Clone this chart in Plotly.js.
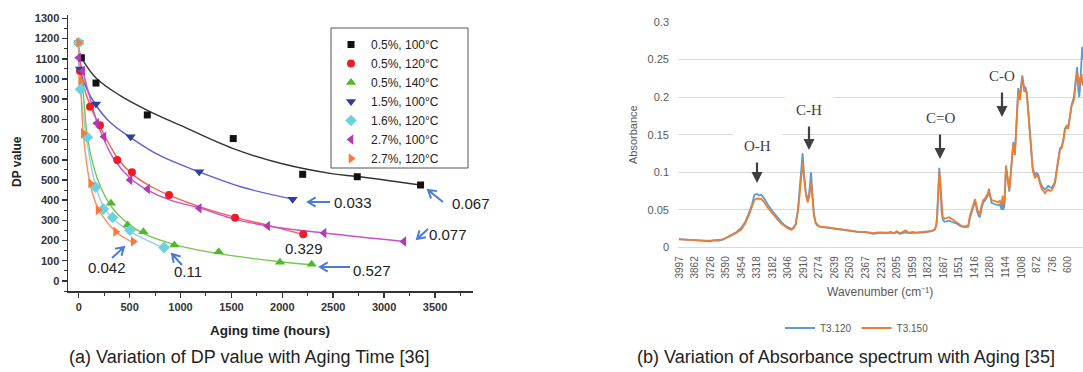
<!DOCTYPE html>
<html><head><meta charset="utf-8">
<script src="https://cdn.plot.ly/plotly-3.0.1.min.js"></script>
<style>html,body{margin:0;padding:0;background:#fff;overflow:hidden}#chart{width:1083px;height:372px}</style>
</head><body><div id="chart"></div>
<script>
// ---------- (a) DP value vs aging time ----------
const seriesNames = ['0.5%, 100°C','0.5%, 120°C','0.5%, 140°C','1.5%, 100°C','1.6%, 120°C','2.7%, 100°C','2.7%, 120°C'];
const dpX = [
  [26, 170, 674, 1518, 2200, 2736, 3358],
  [0, 13, 111, 209, 379, 523, 887, 1536, 2206],
  [0, 85, 317, 481, 635, 939, 1375, 1977, 2288],
  [0, 13, 170, 510, 1184, 2101],
  [0, 19, 85, 166, 242, 333, 504, 838],
  [0, 39, 177, 248, 504, 677, 1184, 1856, 2410, 3194],
  [0, 19, 45, 117, 190, 363, 536]
];
const dpY = [
  [1105, 980, 822, 705, 528, 516, 475],
  [1180, 1040, 863, 771, 599, 538, 426, 313, 231],
  [1180, 714, 385, 277, 243, 178, 145, 93, 83],
  [1180, 1050, 876, 714, 541, 404],
  [1180, 949, 711, 464, 356, 314, 251, 165],
  [1105, 1040, 781, 714, 500, 455, 360, 272, 237, 195],
  [1180, 992, 731, 483, 351, 244, 195]
];
// fitted curves
const fitX = [
  [26, 170, 400, 674, 1000, 1518, 2000, 2500, 2736, 3358],
  [0, 13, 111, 209, 379, 523, 700, 887, 1200, 1536, 1900, 2206],
  [0, 50, 85, 150, 220, 317, 481, 635, 939, 1375, 1977, 2288],
  [0, 13, 80, 170, 300, 510, 800, 1184, 1600, 2101],
  [0, 19, 85, 166, 242, 333, 504, 838],
  [0, 39, 177, 248, 350, 504, 677, 900, 1184, 1500, 1856, 2410, 3194],
  [0, 19, 45, 117, 190, 363, 536]
];
const fitY = [
  [1105, 1005, 920, 845, 770, 655, 580, 530, 517, 475],
  [1180, 1040, 870, 765, 610, 530, 470, 425, 365, 315, 270, 230],
  [1180, 900, 714, 560, 460, 370, 285, 235, 180, 135, 95, 80],
  [1180, 1050, 950, 870, 790, 710, 620, 540, 465, 405],
  [1180, 950, 680, 470, 370, 310, 245, 162],
  [1105, 1040, 790, 700, 600, 510, 450, 400, 362, 310, 272, 237, 195],
  [1180, 990, 730, 470, 360, 245, 190]
];
const dpTicksX = [0, 500, 1000, 1500, 2000, 2500, 3000, 3500];
const rateLabels = ['0.067', '0.033', '0.077', '0.527', '0.11', '0.042', '0.329'];

// ---------- (b) FTIR spectrum ----------
const wn = [4000,3950,3900,3862,3800,3760,3726,3700,3650,3620,
 3590,3550,3500,3454,3420,3390,3360,3340,3318,3300,
 3280,3250,3220,3182,3140,3100,3070,3046,3020,3000,
 2980,2960,2945,2930,2919,2905,2890,2875,2860,2846,
 2835,2820,2805,2790,2774,2700,2639,2570,2503,2440,
 2367,2330,2300,2260,2231,2180,2150,2120,2095,2070,
 2050,2020,1990,1959,1930,1900,1860,1823,1790,1763,
 1750,1743,1735,1725,1718,1713,1705,1695,1680,1661,
 1640,1617,1595,1573,1550,1530,1500,1472,1457,1440,
 1428,1413,1400,1393,1380,1370,1355,1341,1325,1312,
 1300,1291,1280,1267,1250,1230,1210,1195,1180,1171,
 1166,1155,1142,1130,1113,1100,1090,1078,1064,1050,
 1035,1020,1010,1000,990,983,972,961,950,933,
 920,909,889,875,860,845,830,815,801,787,
 773,758,743,728,714,700,685,670,656,640,
 627,612,598,583,568,558,548,535,520,510,
 502,496,490,481,476,470];
const t3_120 = [0.0110,0.0105,0.0100,0.0095,0.0090,0.0092,0.0080,0.0092,0.0090,0.0100,
 0.0125,0.0160,0.0200,0.0260,0.0340,0.0450,0.0580,0.0700,0.0710,0.0690,
 0.0700,0.0640,0.0560,0.0480,0.0400,0.0330,0.0285,0.0265,0.0245,0.0260,
 0.0310,0.0500,0.0750,0.1050,0.1250,0.0950,0.0720,0.0610,0.0750,0.1000,
 0.0720,0.0440,0.0320,0.0290,0.0275,0.0260,0.0245,0.0230,0.0215,0.0205,
 0.0200,0.0185,0.0180,0.0190,0.0195,0.0190,0.0195,0.0185,0.0200,0.0180,
 0.0190,0.0200,0.0190,0.0195,0.0190,0.0195,0.0195,0.0205,0.0215,0.0235,
 0.0300,0.0440,0.0760,0.1060,0.0900,0.0740,0.0480,0.0370,0.0340,0.0345,
 0.0355,0.0340,0.0330,0.0315,0.0290,0.0275,0.0270,0.0275,0.0390,0.0490,
 0.0540,0.0610,0.0530,0.0470,0.0420,0.0400,0.0520,0.0600,0.0620,0.0660,
 0.0690,0.0750,0.0650,0.0590,0.0580,0.0570,0.0560,0.0570,0.0500,0.0640,
 0.0500,0.0560,0.1070,0.0930,0.0740,0.0990,0.1220,0.1400,0.1250,0.1640,
 0.2120,0.2000,0.2190,0.2290,0.2190,0.2120,0.2130,0.2070,0.1880,0.1600,
 0.1290,0.1060,0.0960,0.0990,0.0970,0.0880,0.0820,0.0790,0.0770,0.0790,
 0.0820,0.0800,0.0790,0.0830,0.0870,0.1020,0.1180,0.1320,0.1340,0.1440,
 0.1580,0.1620,0.1600,0.1770,0.1900,0.1950,0.2000,0.2200,0.2400,0.2100,
 0.2000,0.2100,0.2300,0.2400,0.2670,0.2500];
const t3_150 = [0.0105,0.0100,0.0098,0.0095,0.0093,0.0090,0.0088,0.0092,0.0095,0.0105,
 0.0120,0.0150,0.0190,0.0240,0.0320,0.0420,0.0540,0.0630,0.0650,0.0650,
 0.0645,0.0590,0.0520,0.0450,0.0370,0.0310,0.0270,0.0250,0.0235,0.0250,
 0.0300,0.0480,0.0700,0.0950,0.1130,0.0900,0.0700,0.0600,0.0680,0.0870,
 0.0650,0.0420,0.0330,0.0300,0.0280,0.0265,0.0250,0.0235,0.0220,0.0210,
 0.0205,0.0195,0.0190,0.0200,0.0200,0.0195,0.0205,0.0190,0.0215,0.0185,
 0.0200,0.0225,0.0195,0.0205,0.0195,0.0200,0.0200,0.0210,0.0220,0.0240,
 0.0300,0.0420,0.0700,0.1000,0.0900,0.0780,0.0520,0.0410,0.0380,0.0390,
 0.0400,0.0380,0.0355,0.0330,0.0300,0.0285,0.0280,0.0290,0.0420,0.0520,
 0.0580,0.0640,0.0560,0.0500,0.0460,0.0450,0.0560,0.0630,0.0650,0.0690,
 0.0720,0.0780,0.0680,0.0630,0.0620,0.0610,0.0600,0.0620,0.0560,0.0690,
 0.0580,0.0600,0.1090,0.0950,0.0760,0.0980,0.1200,0.1380,0.1230,0.1600,
 0.2070,0.1960,0.2150,0.2270,0.2160,0.2070,0.2100,0.2050,0.1850,0.1560,
 0.1250,0.1030,0.0920,0.0960,0.0940,0.0850,0.0780,0.0750,0.0720,0.0750,
 0.0770,0.0750,0.0760,0.0800,0.0850,0.1000,0.1160,0.1300,0.1320,0.1420,
 0.1560,0.1600,0.1580,0.1750,0.1890,0.1920,0.1960,0.2150,0.2330,0.2250,
 0.2250,0.2160,0.2250,0.2310,0.2200,0.2150];
const wnTicks = [3997,3862,3726,3590,3454,3318,3182,3046,2910,2774,2639,2503,2367,2231,2095,1959,1823,1687,1551,1416,1280,1144,1008,872,736,600];
const bandLabels = ['O-H','C-H','C=O','C-O'];

// ---------- helpers ----------
const W = 1083, H = 372;
const PX = x => x / W, PY = y => 1 - y / H;
const markerColors = ['#111111','#ee1c24','#4cb82a','#2e3d9e','#6fd0de','#b23bb2','#f87a3a'];
const lineColors   = ['#333333','#f2604e','#74c84a','#5a5fd6','#8ad8e6','#cc4fcc','#ff8c5a'];
const symbols = ['square','circle','triangle-up','triangle-down','diamond','triangle-left','triangle-right'];
const sizes = [7,8,9,9,9,9,9];

const traces = [];
for (let i = 0; i < 7; i++) {
  traces.push({x: fitX[i], y: fitY[i], xaxis:'x', yaxis:'y', mode:'lines', showlegend:false,
    line:{color: lineColors[i], width:1.4, shape:'spline', smoothing:1}, hoverinfo:'skip'});
}
for (let i = 0; i < 7; i++) {
  traces.push({x: dpX[i], y: dpY[i], xaxis:'x', yaxis:'y', mode:'markers', name: seriesNames[i],
    legend:'legend', marker:{symbol: symbols[i], size: sizes[i], color: markerColors[i]}});
}
traces.push({x: wn, y: t3_120, xaxis:'x2', yaxis:'y2', mode:'lines', name:'T3.120', legend:'legend2',
  line:{color:'#5b9bd5', width:1.8}});
traces.push({x: wn, y: t3_150, xaxis:'x2', yaxis:'y2', mode:'lines', name:'T3.150', legend:'legend2',
  line:{color:'#ed7d31', width:1.8}});

function vArrow(tx, ty, hx, hy) {
  const ang = Math.atan2(ty - hy, tx - hx), L = 9, a = 0.55;
  const p1 = [hx + L*Math.cos(ang + a), hy + L*Math.sin(ang + a)];
  const p2 = [hx + L*Math.cos(ang - a), hy + L*Math.sin(ang - a)];
  return {type:'path', xref:'paper', yref:'paper', layer:'above',
    path:`M${PX(tx)},${PY(ty)} L${PX(hx)},${PY(hy)} M${PX(p1[0])},${PY(p1[1])} L${PX(hx)},${PY(hy)} L${PX(p2[0])},${PY(p2[1])}`,
    line:{color:'#4a7cd6', width:2}};
}
const shapes = [
  // legend frame of panel (a)
  {type:'rect', xref:'paper', yref:'paper', x0:PX(331), x1:PX(468), y0:PY(168), y1:PY(28), fillcolor:'#fff', line:{color:'#555', width:1}, layer:'above'},
  // gaps in the gridlines behind the O-H and C-H labels
  {type:'rect', xref:'paper', yref:'paper', x0:PX(733), x1:PX(782), y0:PY(138), y1:PY(132), fillcolor:'#fff', line:{width:0}, layer:'above'},
  {type:'rect', xref:'paper', yref:'paper', x0:PX(785), x1:PX(833), y0:PY(100), y1:PY(94), fillcolor:'#fff', line:{width:0}, layer:'above'},
  vArrow(443, 202, 428, 190),
  vArrow(330, 202, 308, 202),
  vArrow(428, 229, 417, 239),
  vArrow(350, 267, 320, 267),
  vArrow(182, 265, 172, 254),
  vArrow(112, 258, 124, 247)
];

const numFont = {family:'Liberation Sans, Arial, sans-serif', size:15, color:'#222'};
function txt(t, x, y, opts) {
  return Object.assign({text:t, xref:'paper', yref:'paper', x:PX(x), y:PY(y), showarrow:false,
    xanchor:'left', yanchor:'middle', font:numFont}, opts || {});
}
const bandFont = {family:'Liberation Serif, DejaVu Serif, serif', size:15, color:'#404040'};
function band(t, x, yText, yTail, yHead) {
  return [
    txt(t, x, yText, {xanchor:'center', font:bandFont}),
    {text:'', xref:'paper', yref:'paper', x:PX(x), y:PY(yHead), ax:0, ay:-(yHead - yTail),
     showarrow:true, arrowhead:2, arrowsize:1, arrowwidth:2.2, arrowcolor:'#404040', standoff:0, startstandoff:0}
  ];
}
const capFont = {family:'Liberation Sans, Arial, sans-serif', size:18, color:'#222'};
const annotations = [
  txt(rateLabels[0], 450, 204),
  txt(rateLabels[1], 332, 202),
  txt(rateLabels[2], 427, 234),
  txt(rateLabels[3], 351, 270),
  txt(rateLabels[4], 172, 271),
  txt(rateLabels[5], 86, 267),
  txt(rateLabels[6], 283, 249),
  txt('DP value', 17, 162, {xanchor:'center', textangle:-90,
    font:{family:'Liberation Sans, Arial, sans-serif', size:12, color:'#222', weight:'bold'}}),
  txt('Aging time (hours)', 270, 330, {xanchor:'center',
    font:{family:'Liberation Sans, Arial, sans-serif', size:13.5, color:'#222', weight:'bold'}}),
  txt('Absorbance', 633, 135, {xanchor:'center', textangle:-90,
    font:{family:'Liberation Sans, Arial, sans-serif', size:11, color:'#595959'}}),
  txt('Wavenumber (cm⁻¹)', 880, 292, {xanchor:'center',
    font:{family:'Liberation Sans, Arial, sans-serif', size:12, color:'#595959'}}),
  ...band(bandLabels[0], 757, 146, 161, 183),
  ...band(bandLabels[1], 809, 110, 125, 150),
  ...band(bandLabels[2], 940, 118, 133, 159),
  ...band(bandLabels[3], 1002, 76, 91, 117),
  txt('(a) Variation of DP value with Aging Time [36]', 67, 357, {font:capFont}),
  txt('(b) Variation of Absorbance spectrum with Aging [35]', 635, 357, {font:capFont})
];

const leftTick = {family:'Liberation Sans, Arial, sans-serif', size:11, color:'#333', weight:'bold'};
const layout = {
  width: W, height: H, margin:{l:0, r:0, t:0, b:0}, paper_bgcolor:'#fff', plot_bgcolor:'rgba(0,0,0,0)',
  showlegend: true,
  xaxis: {domain:[PX(68), PX(473)], range:[-105, 3873], anchor:'y', showgrid:false, zeroline:false,
    showline:true, linecolor:'#333', linewidth:1.5, ticks:'outside', ticklen:5, tickwidth:1.5, tickcolor:'#333',
    tickvals: dpTicksX, tickfont: leftTick,
    minor:{ticks:'outside', ticklen:3, dtick:250, tickcolor:'#333', tickwidth:1, showgrid:false}},
  yaxis: {domain:[PY(291), PY(15)], range:[-50, 1317], anchor:'x', showgrid:false, zeroline:false,
    showline:true, linecolor:'#333', linewidth:1.5, ticks:'outside', ticklen:5, tickwidth:1.5, tickcolor:'#333',
    tick0:0, dtick:100, tickfont: leftTick,
    minor:{ticks:'outside', ticklen:3, dtick:50, tickcolor:'#333', tickwidth:1, showgrid:false}},
  xaxis2: {domain:[PX(678), 1], range:[4008, 469], anchor:'y2', showgrid:false, zeroline:false, showline:false,
    ticks:'', tickvals: wnTicks, ticktext: wnTicks.map(String), tickangle:-90, ticklabelstandoff:6,
    tickfont:{family:'Liberation Sans, Arial, sans-serif', size:10, color:'#595959'}},
  yaxis2: {domain:[PY(247.3), PY(22)], range:[0, 0.3], anchor:'x2', dtick:0.05, tick0:0,
    showgrid:true, gridcolor:'#d9d9d9', gridwidth:1, zeroline:true, zerolinecolor:'#d9d9d9', zerolinewidth:1,
    showline:false, ticks:'', ticklabelstandoff:8,
    tickfont:{family:'Liberation Sans, Arial, sans-serif', size:11, color:'#595959'}},
  legend: {x:PX(331), y:PY(30), xanchor:'left', yanchor:'top', bgcolor:'rgba(0,0,0,0)', borderwidth:0,
    font:{family:'Liberation Sans, Arial, sans-serif', size:12, color:'#222'}, tracegroupgap:0},
  legend2: {orientation:'h', x:PX(780), y:PY(328), xanchor:'left', yanchor:'middle', bgcolor:'rgba(0,0,0,0)',
    font:{family:'Liberation Sans, Arial, sans-serif', size:10, color:'#595959'}},
  shapes: shapes,
  annotations: annotations
};
Plotly.newPlot('chart', traces, layout, {staticPlot:true, displayModeBar:false});
</script></body></html>
